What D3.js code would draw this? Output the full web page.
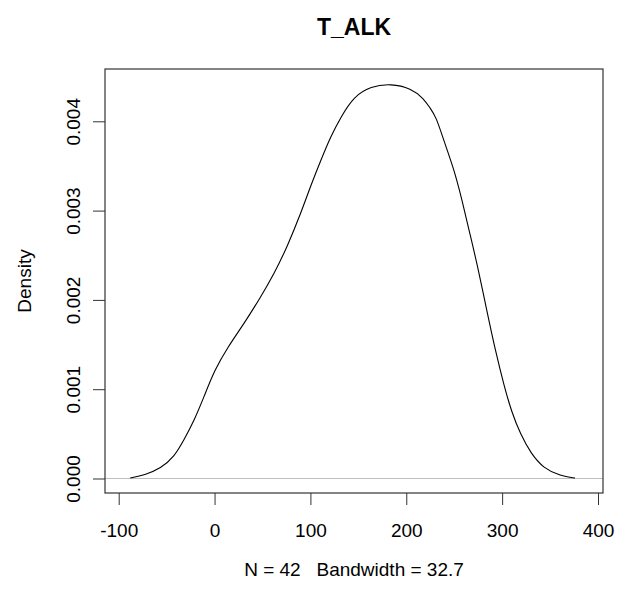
<!DOCTYPE html>
<html>
<head>
<meta charset="utf-8">
<script src="https://cdn.jsdelivr.net/npm/d3@7"></script>
<style>
  body { margin: 0; background: #fff; }
  text { font-family: "Liberation Sans", Arial, sans-serif; fill: #000; }
</style>
</head>
<body>
<script>
// density estimate of T_ALK
var xVals = [-88, -73, -56, -42, -32, -21, -11, 0, 14, 31, 48, 62, 76, 90, 100, 111, 121, 132, 145,
             163, 184, 205, 218, 225, 231, 239, 250, 258, 265, 274, 284, 293, 302, 310, 319, 330, 343, 361, 376];
var densVals = [0.000005, 0.000039, 0.000114, 0.000244, 0.00043, 0.000655, 0.000916, 0.001215, 0.001476, 0.001738,
                0.00203, 0.00229, 0.0026, 0.00297, 0.00327, 0.003567, 0.003828, 0.004052, 0.004276,
                0.004392, 0.004422, 0.00437, 0.004258, 0.004146, 0.004052, 0.00379, 0.003455, 0.003125, 0.0028,
                0.0024, 0.00188, 0.00143, 0.00104, 0.00074, 0.0005, 0.00028, 0.000115, 0.000028, 0.000005];
var xTicks = [-100, 0, 100, 200, 300, 400];
var yTicks = [0, 0.001, 0.002, 0.003, 0.004];

var width = 629,
    height = 592;
var box = {left: 105, right: 603, top: 69, bottom: 493};

var svg = d3.select("body").append("svg")
    .attr("width", width)
    .attr("height", height);

svg.append("rect").attr("width", width).attr("height", height).attr("fill", "#fff");

var x = d3.scaleLinear().domain([-100, 400]).range([118.7, 598]);
var y = d3.scaleLinear().domain([0, 0.004]).range([478.5, 121.3]);

var pts = xVals.map(function(v, i) { return [v, densVals[i]]; });

// zero line
svg.append("line")
    .attr("x1", box.left).attr("x2", box.right)
    .attr("y1", y(0)).attr("y2", y(0))
    .attr("stroke", "#bebebe").attr("stroke-width", 1);

// density curve
var line = d3.line()
    .x(function(d) { return x(d[0]); })
    .y(function(d) { return y(d[1]); })
    .curve(d3.curveBasis);

svg.append("path")
    .datum(pts)
    .attr("d", line)
    .attr("fill", "none")
    .attr("stroke", "#000")
    .attr("stroke-width", 1.1);

// box
svg.append("rect")
    .attr("x", box.left).attr("y", box.top)
    .attr("width", box.right - box.left).attr("height", box.bottom - box.top)
    .attr("fill", "none").attr("stroke", "#333").attr("stroke-width", 1.2);

// x axis (plain hyphen for negatives, like R)
var xAxis = d3.axisBottom(x).tickValues(xTicks).tickSize(12)
    .tickFormat(function(d) { return String(d); });
var gx = svg.append("g").attr("transform", "translate(0," + box.bottom + ")").call(xAxis);
gx.select(".domain").remove();
gx.selectAll("line").attr("stroke", "#333");
gx.selectAll("text").attr("font-size", 19).attr("font-family", "Liberation Sans, Arial, sans-serif")
    .attr("dy", null).attr("y", 44);

// y axis with rotated labels
var yAxis = d3.axisLeft(y).tickValues(yTicks).tickSize(12).tickFormat(d3.format(".3f"));
var gy = svg.append("g").attr("transform", "translate(" + box.left + ",0)").call(yAxis);
gy.select(".domain").remove();
gy.selectAll("line").attr("stroke", "#333");
gy.selectAll("text")
    .attr("font-size", 19).attr("font-family", "Liberation Sans, Arial, sans-serif")
    .attr("x", null).attr("dy", null)
    .attr("text-anchor", "middle")
    .attr("transform", "translate(-25,0) rotate(-90)");

// titles
svg.append("text")
    .attr("x", (box.left + box.right) / 2).attr("y", 35)
    .attr("text-anchor", "middle")
    .attr("font-size", 23).attr("font-weight", "bold")
    .text("T_ALK");

svg.append("text")
    .attr("x", (box.left + box.right) / 2).attr("y", 576)
    .attr("text-anchor", "middle")
    .attr("font-size", 19)
    .attr("xml:space", "preserve")
    .style("white-space", "pre")
    .text("N = 42   Bandwidth = 32.7");

svg.append("text")
    .attr("transform", "translate(31," + (box.top + box.bottom) / 2 + ") rotate(-90)")
    .attr("text-anchor", "middle")
    .attr("font-size", 19)
    .text("Density");
</script>
</body>
</html>
